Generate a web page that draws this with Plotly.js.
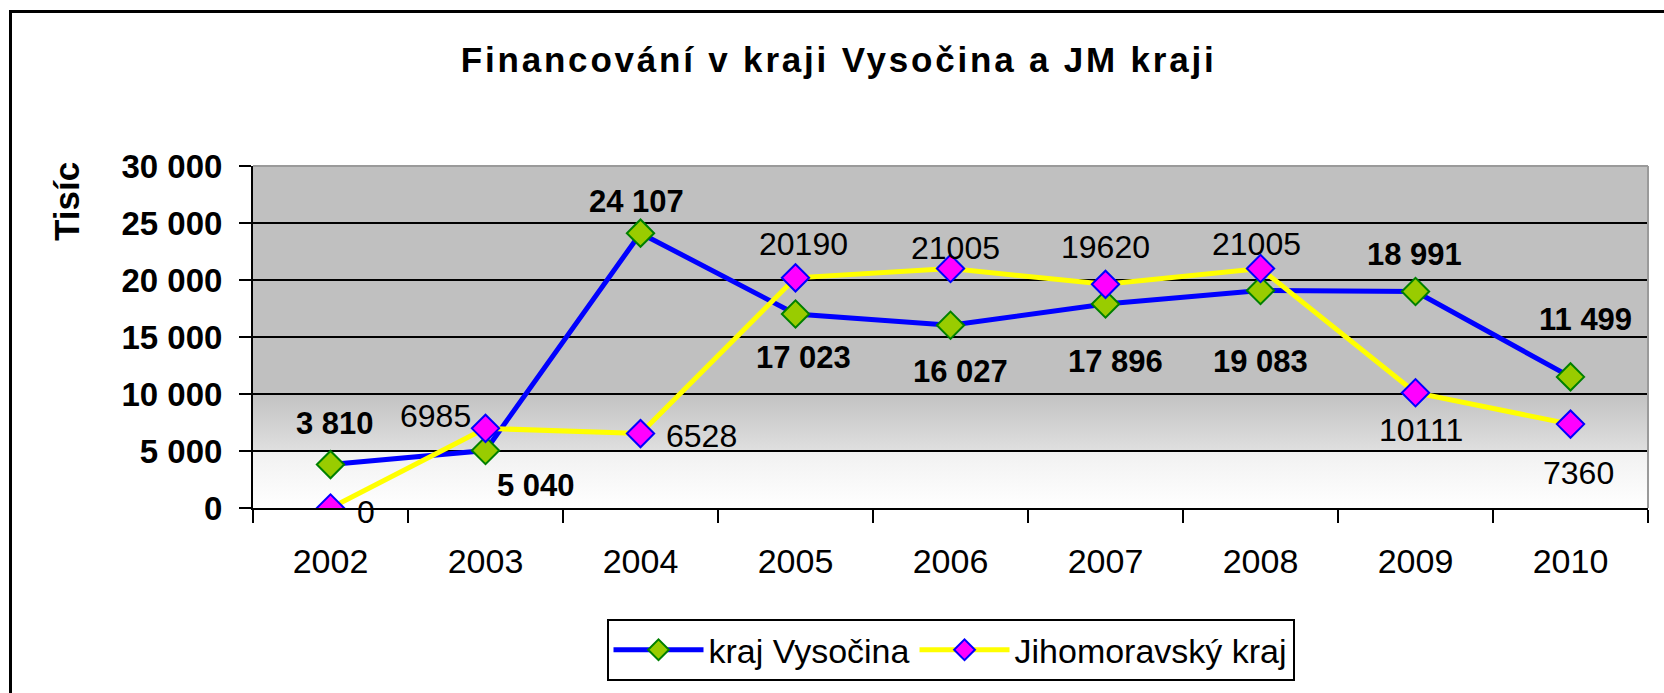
<!DOCTYPE html>
<html><head><meta charset="utf-8">
<script src="https://cdn.plot.ly/plotly-3.0.1.min.js"></script>
<style>
html,body{margin:0;padding:0;background:#fff;}
#frame{position:absolute;left:9px;top:10px;width:1700px;height:800px;border-left:3px solid #000;border-top:3px solid #000;box-sizing:border-box;}
#chart{position:absolute;left:0;top:0;width:1664px;height:693px;}
.gtitle{letter-spacing:2.8px;}
</style></head><body>
<div id="frame"></div>
<div id="chart"></div>
<script>
// ---- data ----
const years = ['2002','2003','2004','2005','2006','2007','2008','2009','2010'];
const vysocina = [3810, 5040, 24107, 17023, 16027, 17896, 19083, 18991, 11499];
const jihomoravsky = [0, 6985, 6528, 20190, 21005, 19620, 21005, 10111, 7360];
const seriesNames = ['kraj Vysočina', 'Jihomoravský kraj'];
const yTickValues = [0, 5000, 10000, 15000, 20000, 25000, 30000];
const chartTitle = 'Financování v kraji Vysočina a JM kraji';
const yTitle = 'Tisíc';

// ---- label placement (pixel offsets from each point) ----
const vysLabelShift = [[4,41],[50,-35],[-4,32],[8,-44],[10,-46],[10,-58],[0,-71],[-1,37],[15,57]];
const jmLabelShift = [[35,-4],[-50,12],[61,-2],[8,34],[5,21],[0,37],[-4,25],[5,-37],[8,-49]];

const FONT = 'Liberation Sans, Arial, sans-serif';
function spaced(v){ return String(v).replace(/\B(?=(\d{3})+(?!\d))/g, ' '); }

const traces = [
  {x: years, y: vysocina, name: seriesNames[0], type: 'scatter', mode: 'lines+markers',
   line: {color: '#0000ff', width: 5},
   marker: {symbol: 'diamond', size: 21, color: '#99cc00', line: {color: '#008000', width: 2}}},
  {x: years, y: jihomoravsky, name: seriesNames[1], type: 'scatter', mode: 'lines+markers',
   line: {color: '#ffff00', width: 5},
   marker: {symbol: 'diamond', size: 21, color: '#ff00ff', line: {color: '#0000ff', width: 2}}}
];

const annotations = [];
years.forEach((yr, i) => {
  // category axis: annotation x given as the category's serial index
  annotations.push({x: i, y: vysocina[i], xref: 'x', yref: 'y', text: spaced(vysocina[i]), showarrow: false,
    xanchor: 'center', yanchor: 'middle', xshift: vysLabelShift[i][0], yshift: vysLabelShift[i][1],
    font: {family: FONT, size: 31, color: '#000', weight: 'bold'}});
  annotations.push({x: i, y: jihomoravsky[i], xref: 'x', yref: 'y', text: String(jihomoravsky[i]), showarrow: false,
    xanchor: 'center', yanchor: 'middle', xshift: jmLabelShift[i][0], yshift: jmLabelShift[i][1],
    font: {family: FONT, size: 32, color: '#000'}});
});
annotations.push({text: yTitle, xref: 'paper', yref: 'paper', x: -0.1333, y: 0.895, textangle: -90,
  showarrow: false, xanchor: 'center', yanchor: 'middle',
  font: {family: FONT, size: 35, color: '#000', weight: 'bold'}});

const layout = {
  width: 1664, height: 693,
  margin: {l: 253, r: 16, t: 166, b: 182},
  paper_bgcolor: 'rgba(0,0,0,0)',
  plot_bgcolor: '#c0c0c0',
  separators: ', ',
  title: {text: chartTitle, x: 0.504, xref: 'container', y: 1 - 60/693, yref: 'container',
    xanchor: 'center', yanchor: 'middle', font: {family: FONT, size: 35, color: '#000', weight: 'bold'}},
  showlegend: true,
  legend: {orientation: 'h', x: 0.5, xanchor: 'center', y: -0.325, yanchor: 'top',
    bgcolor: '#fff', bordercolor: '#000', borderwidth: 2, itemwidth: 90,
    font: {family: FONT, size: 34, color: '#000'}},
  xaxis: {type: 'category', range: [-0.5, 8.5], tickson: 'boundaries', ticks: 'outside', ticklen: 13,
    tickwidth: 2, tickcolor: '#000', showline: true, linecolor: '#000', linewidth: 2, showgrid: false,
    zeroline: false, ticklabelstandoff: 22, tickfont: {family: FONT, size: 34, color: '#000'}, fixedrange: true},
  yaxis: {range: [0, 30000], tickvals: yTickValues, ticktext: yTickValues.map(spaced), ticks: 'outside',
    ticklen: 12, tickwidth: 2, tickcolor: '#000', showline: true, linecolor: '#000', linewidth: 2,
    showgrid: true, gridcolor: '#000', gridwidth: 2, zeroline: false, ticklabelstandoff: 10,
    tickfont: {family: FONT, size: 33, color: '#000', weight: 'bold'}, fixedrange: true},
  shapes: [
    {type: 'line', xref: 'paper', yref: 'paper', x0: 0, x1: 1, y0: 1, y1: 1, line: {color: '#9a9a9a', width: 2}, layer: 'above'},
    {type: 'line', xref: 'paper', yref: 'paper', x0: 1, x1: 1, y0: 0, y1: 1, line: {color: '#9a9a9a', width: 2}, layer: 'above'}
  ],
  annotations: annotations
};

const gd = document.getElementById('chart');
Plotly.newPlot(gd, traces, layout, {staticPlot: true, displayModeBar: false}).then(() => {
  const NS = 'http://www.w3.org/2000/svg';
  const svg = gd.querySelector('.main-svg');
  let defs = svg.querySelector('defs');
  if (!defs) { defs = document.createElementNS(NS, 'defs'); svg.insertBefore(defs, svg.firstChild); }
  const grad = document.createElementNS(NS, 'linearGradient');
  grad.setAttribute('id', 'plotGrad');
  grad.setAttribute('x1', '0'); grad.setAttribute('y1', '0');
  grad.setAttribute('x2', '0'); grad.setAttribute('y2', '1');
  [[0, '#c0c0c0'], [0.655, '#c0c0c0'], [0.832, '#dfdfdf'], [0.836, '#f1f1f1'], [1, '#ffffff']].forEach(s => {
    const st = document.createElementNS(NS, 'stop');
    st.setAttribute('offset', s[0]); st.setAttribute('stop-color', s[1]);
    grad.appendChild(st);
  });
  defs.appendChild(grad);
  const bg = gd.querySelector('.bglayer .bg');
  if (bg) bg.style.fill = 'url(#plotGrad)';
});
</script>
</body></html>
